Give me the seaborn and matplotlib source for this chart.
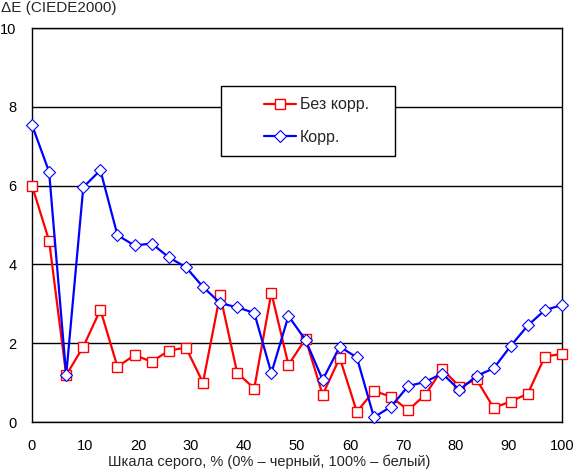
import matplotlib
matplotlib.use("Agg")
import matplotlib.pyplot as plt
from matplotlib.patches import Rectangle
import seaborn as sns
import numpy as np

sns.set_style("white")
plt.rcParams['font.family'] = ['Liberation Sans', 'DejaVu Sans']

# grey scale steps, % (32 points 0..100)
gray = np.linspace(0, 100, 32)

# dE without correction
de_raw = [6.00, 4.60, 1.19, 1.91, 2.85, 1.40, 1.70, 1.53, 1.81, 1.89, 1.00, 3.23,
          1.25, 0.85, 3.28, 1.45, 2.11, 0.69, 1.63, 0.26, 0.79, 0.64, 0.30, 0.69,
          1.34, 0.90, 1.08, 0.36, 0.52, 0.72, 1.66, 1.73]
# dE with correction
de_corr = [7.54, 6.35, 1.19, 5.96, 6.39, 4.74, 4.48, 4.53, 4.18, 3.93, 3.43, 3.02,
           2.91, 2.77, 1.24, 2.69, 2.08, 1.07, 1.91, 1.64, 0.12, 0.39, 0.91, 1.02,
           1.23, 0.81, 1.17, 1.36, 1.93, 2.45, 2.84, 2.97]

labels = ["Без корр.", "Корр."]
xticks = [0, 10, 20, 30, 40, 50, 60, 70, 80, 90, 100]
yticks = [0, 2, 4, 6, 8, 10]

fig = plt.figure(figsize=(5.74, 4.72), dpi=100)
ax = fig.add_axes([32/574, 50/472, 530/574, 394/472])

sns.lineplot(x=gray, y=de_raw, ax=ax, color="#ff0000", linewidth=1.6,
             marker="s", markersize=7.5, markerfacecolor="white",
             markeredgecolor="#ff0000", markeredgewidth=1.0,
             label=labels[0], clip_on=False, zorder=5)
sns.lineplot(x=gray, y=de_corr, ax=ax, color="#0000ff", linewidth=1.6,
             marker="D", markersize=6.5, markerfacecolor="white",
             markeredgecolor="#0000ff", markeredgewidth=0.8,
             label=labels[1], clip_on=False, zorder=6)

ax.set_xlim(0, 100)
ax.set_ylim(0, 10)
ax.set_xticks(xticks)
ax.set_yticks(yticks)
ax.grid(axis="y", color="black", linewidth=1)
ax.grid(axis="x", visible=False)
for s in ax.spines.values():
    s.set_color("black")
    s.set_linewidth(1)
ax.tick_params(axis="both", direction="out", length=5, width=1, color="black",
               labelsize=10.5, labelcolor="black")
ax.tick_params(axis="x", pad=7)
ax.tick_params(axis="y", pad=6)

ax.set_xlabel("Шкала серого, % (0% – черный, 100% – белый)", fontsize=10.5)
ax.xaxis.set_label_coords((269 - 32) / 530, -0.083)
fig.text(0.002, 1 - 1/472, "ΔE (CIEDE2000)", fontsize=11, ha="left", va="top")

# legend box
ax.add_patch(Rectangle((0.357, 0.675), 0.328, 0.178, transform=ax.transAxes,
                       facecolor="white", edgecolor="black", linewidth=1,
                       zorder=7))
leg = ax.legend(loc="upper left", bbox_to_anchor=(0.425, 0.84), frameon=False,
                fontsize=11.5, handlelength=2.0, handletextpad=0.25,
                labelspacing=1.1, borderaxespad=0)
leg.set_zorder(8)

fig.savefig("out.png", dpi=100)
